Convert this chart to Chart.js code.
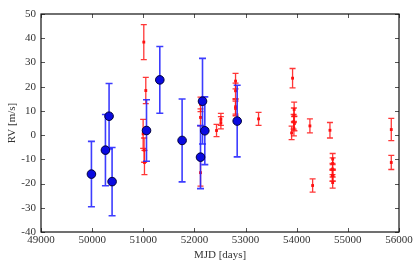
<!DOCTYPE html>
<html>
<head>
<meta charset="utf-8">
<script src="https://cdn.jsdelivr.net/npm/chart.js@4"></script>
<style>
  html, body { margin: 0; padding: 0; background: #fff; }
  #wrap { width: 416px; height: 273px; }
</style>
</head>
<body>
<div id="wrap"><canvas id="rvChart" width="416" height="273"></canvas></div>
<script>
// older survey (blue, large dots)
const blueMjd = [49986, 50260, 50331, 50390, 51063, 51323, 51759, 52119, 52158, 52203, 52836];
const blueRv  = [-16.1, -6.2, 7.8, -19.2, 1.9, 22.8, -2.2, -9.1, 14.0, 1.8, 5.8];
const blueErr = [13.5, 14.7, 13.5, 14.1, 12.7, 13.8, 17.1, 13, 17.7, 14, 14.8];

// newer survey (red, small squares)
const redMjd = [50997, 51010, 51016, 51023, 51049, 52119, 52119, 52119, 52432, 52517, 52517,
    52804, 52804, 52804, 52804, 53254, 53919, 53950, 53945, 53940, 53955, 53945, 53900,
    54258, 54311, 54650, 54703, 54703, 54700, 54695, 54710, 54703, 55849, 55849];
const redRv = [0.5, 38.4, -6.2, -11.3, 18.4, 12.7, 7.3, -15.5, 1.9, 6.5, 5.1,
    22.3, 18.3, 11.7, 11.0, 6.7, 23.5, 10.6, 8.2, 5.5, 4.8, 2.7, 0.9,
    3.8, -20.8, 2.0, -9.9, -11.7, -14.0, -16.7, -16.7, -19.6, 2.3, -11.3];
const redErr = [6, 7.2, 5, 5, 5.4, 3, 3.5, 5.6, 2.5, 2.5, 2.5,
    3.2, 3.2, 3, 3, 2.7, 4, 3, 3, 3, 3, 3, 2.8,
    2.9, 2.7, 3.2, 2.3, 2.3, 2.3, 2.3, 2.3, 2.3, 4.6, 2.9];

const xTicks = [49000, 50000, 51000, 52000, 53000, 54000, 55000, 56000];
const yTicks = [-40, -30, -20, -10, 0, 10, 20, 30, 40, 50];

const serif = '"Liberation Serif", "DejaVu Serif", serif';

function toPoints(xs, ys, es) {
    return xs.map((x, i) => ({ x: x, y: ys[i], e: es[i] }));
}

// draws the error bars of each dataset just before its markers
const errorBars = {
    id: 'errorBars',
    beforeDatasetDraw(chart, args) {
        const ds = chart.data.datasets[args.index];
        const ctx = chart.ctx;
        const xs = chart.scales.x, ys = chart.scales.y;
        ctx.save();
        ctx.strokeStyle = ds.barColor;
        ctx.lineWidth = ds.barWidth;
        ds.data.forEach(p => {
            const px = xs.getPixelForValue(p.x);
            const top = ys.getPixelForValue(p.y + p.e);
            const bot = ys.getPixelForValue(p.y - p.e);
            const c = ds.capHalf;
            ctx.beginPath();
            ctx.moveTo(px, top); ctx.lineTo(px, bot);
            ctx.moveTo(px - c, top); ctx.lineTo(px + c, top);
            ctx.moveTo(px - c, bot); ctx.lineTo(px + c, bot);
            ctx.stroke();
        });
        ctx.restore();
    }
};

// black frame with inward ticks on all four sides
const frame = {
    id: 'frame',
    afterDraw(chart) {
        const ctx = chart.ctx;
        const a = chart.chartArea;
        const xs = chart.scales.x, ys = chart.scales.y;
        ctx.save();
        ctx.strokeStyle = '#555';
        ctx.lineWidth = 1;
        ctx.beginPath();
        xTicks.forEach(v => {
            const px = Math.round(xs.getPixelForValue(v)) + 0.5;
            ctx.moveTo(px, a.bottom); ctx.lineTo(px, a.bottom - 4);
            ctx.moveTo(px, a.top); ctx.lineTo(px, a.top + 4);
        });
        yTicks.forEach(v => {
            const py = Math.round(ys.getPixelForValue(v)) + 0.5;
            ctx.moveTo(a.left, py); ctx.lineTo(a.left + 4, py);
            ctx.moveTo(a.right, py); ctx.lineTo(a.right - 4, py);
        });
        ctx.stroke();
        ctx.strokeStyle = '#111';
        ctx.lineWidth = 1.2;
        ctx.strokeRect(a.left, a.top, a.right - a.left, a.bottom - a.top);
        ctx.restore();
    }
};

new Chart(document.getElementById('rvChart').getContext('2d'), {
    type: 'scatter',
    data: {
        datasets: [{
            label: 'old',
            data: toPoints(blueMjd, blueRv, blueErr),
            pointStyle: 'circle',
            pointRadius: 4.3,
            backgroundColor: '#0a0ae0',
            borderColor: '#00003a',
            borderWidth: 1,
            barColor: 'rgba(40, 40, 255, 0.9)',
            barWidth: 1.6,
            capHalf: 3.5
        }, {
            label: 'new',
            data: toPoints(redMjd, redRv, redErr),
            pointStyle: 'rect',
            pointRadius: 2,
            backgroundColor: '#ff1010',
            borderColor: '#ff1010',
            borderWidth: 0,
            barColor: 'rgba(255, 20, 20, 0.85)',
            barWidth: 1.3,
            capHalf: 3
        }]
    },
    options: {
        responsive: false,
        animation: false,
        events: [],
        layout: { padding: { top: 14, right: 17, left: 0, bottom: 0 } },
        plugins: {
            legend: { display: false },
            tooltip: { enabled: false }
        },
        scales: {
            x: {
                type: 'linear',
                min: 49000,
                max: 56000,
                afterBuildTicks: s => { s.ticks = xTicks.map(v => ({ value: v })); },
                afterFit: s => { s.height = 41; },
                grid: { display: false, drawTicks: false },
                border: { display: false },
                ticks: {
                    color: '#333',
                    font: { family: serif, size: 11 },
                    padding: 2,
                    maxRotation: 0,
                    callback: v => String(v)
                },
                title: {
                    display: true,
                    text: 'MJD [days]',
                    color: '#333',
                    font: { family: serif, size: 11 },
                    padding: { top: 2, bottom: 11 }
                }
            },
            y: {
                type: 'linear',
                min: -40,
                max: 50,
                afterBuildTicks: s => { s.ticks = yTicks.map(v => ({ value: v })); },
                afterFit: s => { s.width = 41; },
                grid: { display: false, drawTicks: false },
                border: { display: false },
                ticks: {
                    color: '#333',
                    font: { family: serif, size: 11 },
                    padding: 5,
                    callback: v => String(v)
                },
                title: {
                    display: true,
                    text: 'RV [m/s]',
                    color: '#333',
                    font: { family: serif, size: 11 },
                    padding: { top: 6, bottom: 0 }
                }
            }
        }
    },
    plugins: [errorBars, frame]
});
</script>
</body>
</html>
